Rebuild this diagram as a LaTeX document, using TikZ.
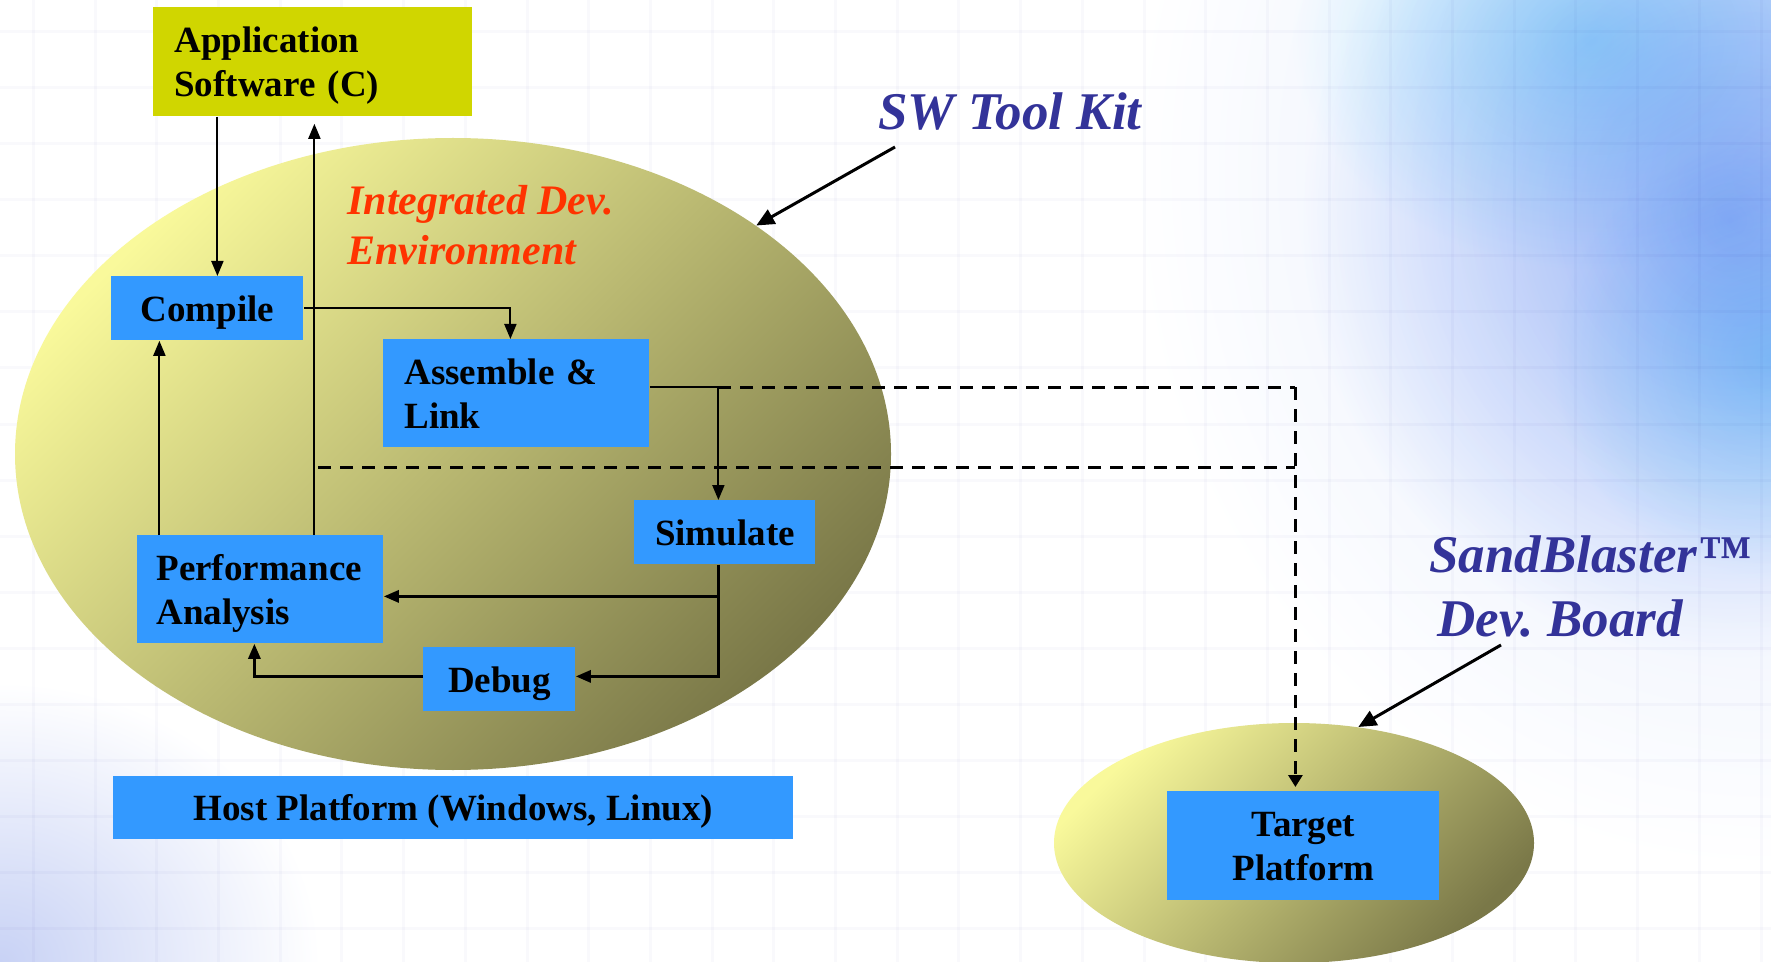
\documentclass[tikz,border=0pt]{standalone}
\usepackage{fontspec}
\setmainfont{Liberation Serif}
\usetikzlibrary{arrows.meta,calc,shapes.geometric}

\definecolor{boxblue}{HTML}{3399FF}
\definecolor{appgreen}{HTML}{D0D600}
\definecolor{idered}{HTML}{FF3300}
\definecolor{navy}{HTML}{333399}
\definecolor{egglight}{HTML}{F9F99B}
\definecolor{eggmid}{HTML}{D0CD82}
\definecolor{eggdark}{HTML}{7A7848}
\definecolor{skyA}{HTML}{A6BFF8}
\definecolor{skyB}{HTML}{B4ECFC}
\definecolor{skyC}{HTML}{DEE7FC}
\definecolor{skyD}{HTML}{C8D2F5}

\tikzset{
  egg/.style={ellipse, inner sep=0pt, top color=egglight, middle color=eggmid,
    bottom color=eggdark, shading angle=45},
  box/.style={fill=boxblue, inner sep=0pt, anchor=north west, text depth=0pt,
    font=\fontsize{18.5}{22}\selectfont\bfseries},
  twoline/.style={text depth=22pt, align=left},
  flow/.style={draw=black, line width=1pt},
  arr/.style={flow, -{Triangle[length=7.5pt,width=6pt]}},
  arrthick/.style={arr, line width=1.5pt},
  dashline/.style={draw=black, line width=1.5pt, dash pattern=on 6.5pt off 4.5pt},
  dasharr/.style={dashline, -{Triangle[length=6pt,width=7pt]}},
  callout/.style={draw=black, line width=1.5pt, -{Triangle[length=9pt,width=8pt]}},
  gridline/.style={draw=black!50!blue, opacity=0.022, line width=1.5pt},
  patch/.style={outer color=white},
}

\begin{document}
\frenchspacing
\begin{tikzpicture}[x=0.5pt, y=-0.5pt]
  \useasboundingbox (0,0) rectangle (1771,962);

  % backdrop: white with soft blue patches and a faint grid
  \fill[white] (0,0) rectangle (1771,962);
  \begin{scope}[blend mode=multiply]
    \clip (0,0) rectangle (1771,962);
    \shade[patch, inner color=skyC] (1771,170) ellipse [x radius=640, y radius=700];
    \shade[patch, inner color=skyA] (1730,220) ellipse [x radius=430, y radius=440];
    \shade[patch, inner color=skyB] (1590,40) ellipse [x radius=300, y radius=230];
    \shade[patch, inner color=skyB] (1771,360) ellipse [x radius=220, y radius=220];
    \shade[patch, inner color=skyD] (0,962) ellipse [x radius=320, y radius=280];
    \foreach \i in {0,...,28} { \draw[gridline] ({33.4+61.7*\i},0) -- ({33.4+61.7*\i},962); }
    \foreach \j in {0,...,17} { \draw[gridline] (0,{32+56*\j}) -- (1771,{32+56*\j}); }
  \end{scope}

  % the two platforms
  \node[egg, minimum width=438pt, minimum height=316pt] (ide) at (453,454) {};
  \node[egg, minimum width=240pt, minimum height=120pt] (board) at (1294,843) {};

  % process boxes
  \node[box, twoline, fill=appgreen, minimum width=159.5pt, minimum height=54.5pt,
        text width=138.5pt] (app) at (153,7) {Application\\Software (C)};
  \node[box, minimum width=96pt, minimum height=32pt] (compile) at (111,276) {Compile};
  \node[box, twoline, minimum width=133pt, minimum height=54pt,
        text width=112pt] (assemble) at (383,339) {Assemble \&\\Link};
  \node[box, minimum width=90.5pt, minimum height=32pt] (simulate) at (634,500) {Simulate};
  \node[box, twoline, minimum width=123pt, minimum height=54pt,
        text width=104pt] (perf) at (137,535) {Performance\\Analysis};
  \node[box, minimum width=76pt, minimum height=32pt] (debug) at (423,647) {Debug};
  \node[box, minimum width=340pt, minimum height=31.5pt] (host) at (113,776) {Host Platform (Windows, Linux)};
  \node[box, minimum width=136pt, minimum height=54.5pt, align=center] (target) at (1167,791) {Target\\Platform};

  % labels
  \node[anchor=north west, inner sep=0pt, align=left, text=idered,
        font=\fontsize{21}{25}\selectfont\bfseries\itshape] (idelabel) at (347,185)
        {Integrated Dev.\\Environment};
  \node[anchor=base west, inner sep=0pt, text=navy,
        font=\fontsize{26.5}{32}\selectfont\bfseries\itshape] (swkit) at (878,130) {SW Tool Kit};
  \node[anchor=north west, inner sep=0pt, align=left, text=navy,
        font=\fontsize{26.5}{32}\selectfont\bfseries\itshape] (sbl) at (1429,535)
        {SandBlaster™\\\hspace*{4pt}Dev. Board};

  % helper points on the connectors
  \coordinate (a1) at ($(compile.north)+(10,0)$);
  \coordinate (p1) at ($(perf.north)+(54,0)$);
  \coordinate (p2) at ($(perf.north)+(-101,0)$);
  \coordinate (an) at ($(assemble.north)+(-6,0)$);
  \coordinate (s0) at ($(assemble.east)+(0,-6)$);
  \coordinate (sn) at ($(simulate.north)+(-6.5,0)$);
  \coordinate (j1) at (s0 -| sn);
  \coordinate (sb) at (sn |- simulate.south);
  \coordinate (tt) at ($(target.north)+(-8,0)$);
  \coordinate (j2) at (j1 -| tt);
  \coordinate (d0) at ($(p1)+(4,-68)$);
  \coordinate (pe) at ($(perf.east)+(0,7)$);
  \coordinate (de) at ($(debug.east)+(0,-3)$);
  \coordinate (dw) at ($(debug.west)+(0,-3)$);
  \coordinate (ps) at ($(perf.south)+(-6,0)$);
  \coordinate (swfrom) at (895,147);
  \coordinate (sbfrom) at (1501,645);

  % tool flow
  \draw[arr] (app.south -| a1) -- (a1);
  \draw[arr] (compile.east) -| (an);
  \draw[flow] (s0) -- (j1);
  \draw[arr] (j1) -- (sn);
  \draw[arrthick] (sb) |- (pe);
  \draw[arrthick] (sb) |- (de);
  \draw[arrthick] (dw) -| (ps);
  \draw[arr] (p2) -- (p2 |- compile.south);
  \draw[arr, shorten >=3.5pt] (p1) -- (p1 |- app.south);

  % download paths to the board
  \draw[dashline] (j1) -- (j2);
  \draw[dashline] (d0) -- (d0 -| tt);
  \draw[dasharr, shorten >=2pt] (j2) -- (tt);

  % callouts
  \draw[callout] (swfrom) -- (ide.37.4);
  \draw[callout] (sbfrom) -- (board.61);
\end{tikzpicture}
\end{document}
